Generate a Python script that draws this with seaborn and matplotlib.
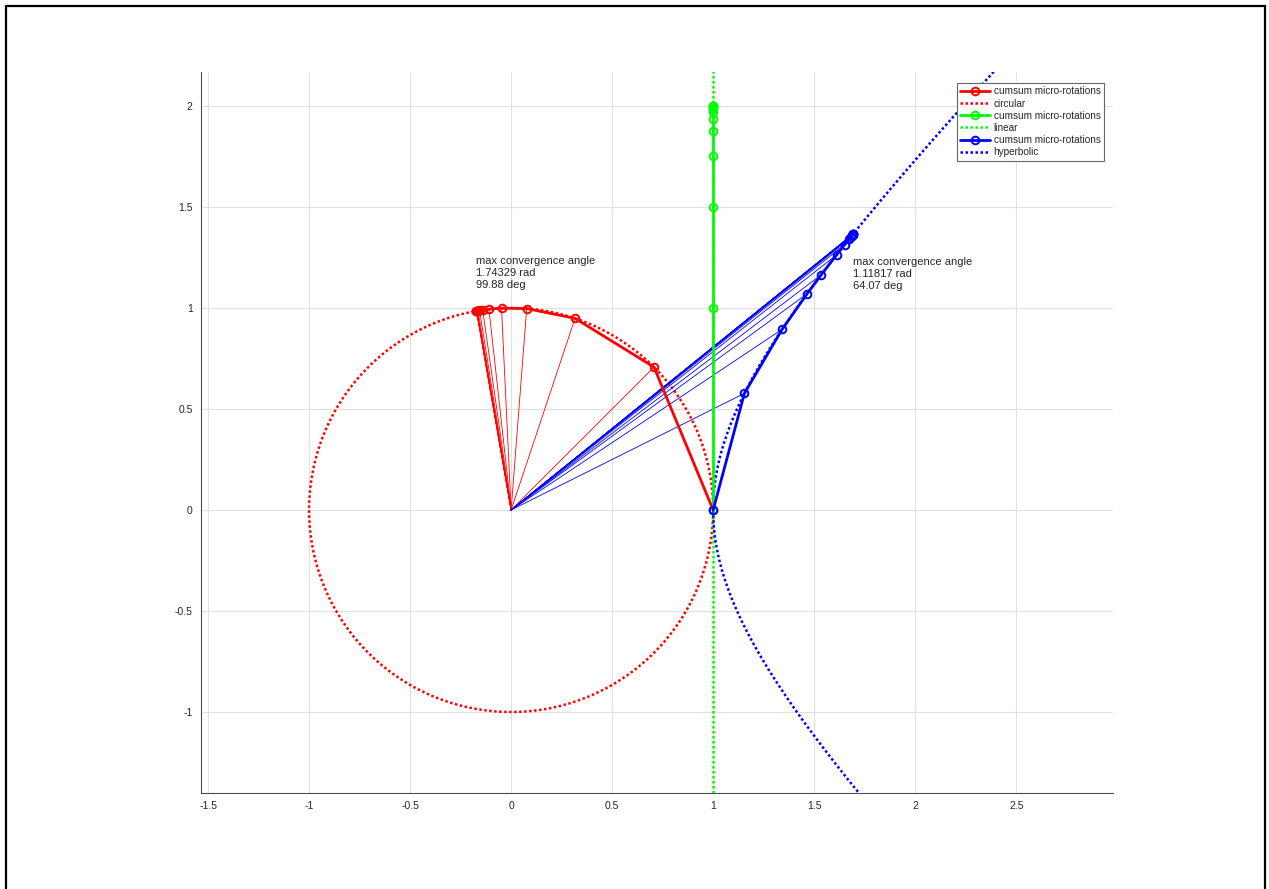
import numpy as np
import pandas as pd
import seaborn as sns
import matplotlib.pyplot as plt
from matplotlib.patches import Rectangle

# cumsum micro-rotation points
circ_x = [1.0, 0.7071, 0.3162, 0.0770, -0.0476, -0.1098, -0.1408, -0.1562, -0.1639,
          -0.1678, -0.1697, -0.1707, -0.1712, -0.1714, -0.1716]
circ_y = [0.0, 0.7071, 0.9487, 0.9970, 0.9989, 0.9940, 0.9901, 0.9877, 0.9865,
          0.9858, 0.9855, 0.9853, 0.9852, 0.9852, 0.9852]

lin_x = [1.0] * 14
lin_y = [0.0, 1.0, 1.5, 1.75, 1.875, 1.9375, 1.9688, 1.9844, 1.9922, 1.9961,
         1.998, 1.999, 1.9995, 2.0]

hyp_x = [1.0, 1.1547, 1.3416, 1.4649, 1.5348, 1.6108, 1.6510, 1.6718, 1.6823,
         1.6876, 1.6903, 1.6916, 1.6922, 1.6926, 1.6931]
hyp_y = [0.0, 0.5774, 0.8944, 1.0705, 1.1644, 1.2628, 1.3137, 1.3397, 1.3528,
         1.3594, 1.3627, 1.3643, 1.3652, 1.3656, 1.3662]

circ_label = 'max convergence angle\n1.74329 rad\n99.88 deg'
hyp_label = 'max convergence angle\n1.11817 rad\n64.07 deg'

sns.set_style('white')
plt.rcParams['font.family'] = ['Liberation Sans', 'DejaVu Sans']

fig = plt.figure(figsize=(12.69, 8.89), dpi=100)
ax = fig.add_axes([201 / 1269, 1 - 793 / 889, 912 / 1269, 721 / 889])

dot = (0, (1, 1))
thick = 2.0


def draw_path(xs, ys, color, label):
    # thin vectors from the origin to every rotated point
    for x, y in zip(xs[1:], ys[1:]):
        ax.plot([0, x], [0, y], color=color, lw=0.6, zorder=2)
    df = pd.DataFrame({'x': xs, 'y': ys})
    sns.lineplot(data=df, x='x', y='y', sort=False, estimator=None, ax=ax,
                 color=color, lw=thick, marker='o', markersize=5.5,
                 markerfacecolor='none', markeredgecolor=color, markeredgewidth=1.4,
                 label=label, zorder=3)


# circular
draw_path(circ_x, circ_y, 'red', 'cumsum micro-rotations')
t = np.linspace(0, 2 * np.pi, 400)
ax.plot(np.cos(t), np.sin(t), color='red', lw=1.8, ls=dot, label='circular', zorder=2)

# linear
df_lin = pd.DataFrame({'x': lin_x, 'y': lin_y})
sns.lineplot(data=df_lin, x='x', y='y', sort=False, estimator=None, ax=ax,
             color='lime', lw=thick, marker='o', markersize=5.5,
             markerfacecolor='none', markeredgecolor='lime', markeredgewidth=1.4,
             label='cumsum micro-rotations', zorder=3)
ax.plot([1, 1], [-1.5, 2.3], color='lime', lw=1.8, ls=dot, label='linear', zorder=2)

# hyperbolic
draw_path(hyp_x, hyp_y, 'blue', 'cumsum micro-rotations')
s = np.linspace(-1.3, 1.7, 300)
ax.plot(np.cosh(s), np.sinh(s), color='blue', lw=1.8, ls=dot, label='hyperbolic', zorder=2)

ax.text(circ_x[-1], circ_y[-1] + 0.19, circ_label, fontsize=8, color='0.15',
        va='center', ha='left', linespacing=1.25)
ax.text(hyp_x[-1], hyp_y[-1] - 0.2, hyp_label, fontsize=8, color='0.15',
        va='center', ha='left', linespacing=1.25)

ax.set_xlim(-1.535, 2.979)
ax.set_ylim(-1.401, 2.168)
ax.set_xticks([-1.5, -1, -0.5, 0, 0.5, 1, 1.5, 2, 2.5])
ax.set_xticklabels(['-1.5', '-1', '-0.5', '0', '0.5', '1', '1.5', '2', '2.5'])
ax.set_yticks([-1, -0.5, 0, 0.5, 1, 1.5, 2])
ax.set_yticklabels(['-1', '-0.5', '0', '0.5', '1', '1.5', '2'])
ax.set_xlabel('')
ax.set_ylabel('')
ax.grid(True, color='0.88', lw=0.8)
ax.set_axisbelow(True)
for side in ['top', 'right']:
    ax.spines[side].set_visible(False)
for side in ['left', 'bottom']:
    ax.spines[side].set_color('0.3')
    ax.spines[side].set_linewidth(0.8)
ax.tick_params(direction='in', length=4, width=0.7, colors='0.3', labelsize=7.5,
               labelcolor='0.15', pad=6)

leg = ax.legend(loc='upper right', bbox_to_anchor=(0.990, 0.985), fontsize=7.2,
                frameon=True, fancybox=False, framealpha=1, edgecolor='0.4',
                handlelength=3.0, handletextpad=0.35, labelspacing=0.22,
                borderpad=0.35, borderaxespad=0)
leg.get_frame().set_linewidth(0.8)

# black frame around the whole picture
fig.patches.append(Rectangle((6 / 1269, -0.01), 1259 / 1269, 1 - 6 / 889 + 0.01,
                             transform=fig.transFigure, fill=False,
                             edgecolor='black', lw=1.6))

fig.savefig('out.png', dpi=100)
